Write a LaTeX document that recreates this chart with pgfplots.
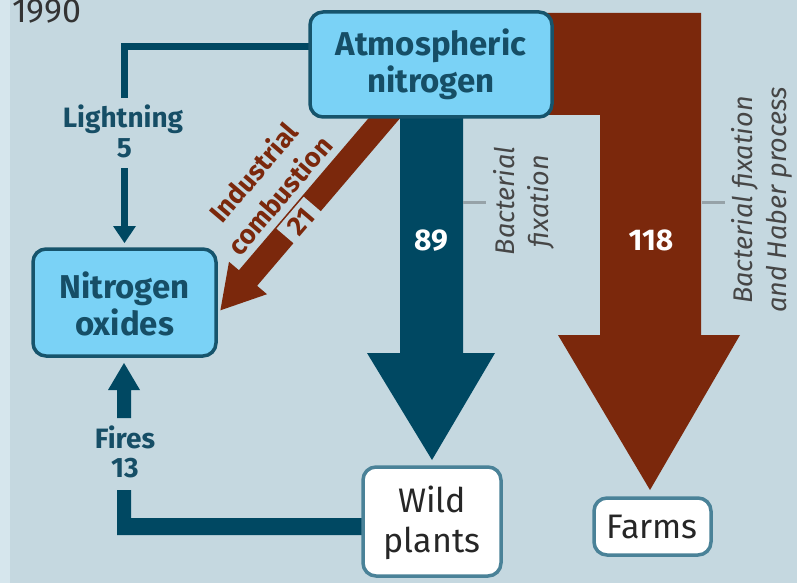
\documentclass[border=0pt]{standalone}
\usepackage{pgfplots}
\pgfplotsset{compat=1.18}
\usepackage{fontspec}
\setmainfont{Fira Sans}
\definecolor{bg}{RGB}{197,216,224}
\definecolor{strip}{RGB}{214,230,237}
\definecolor{boxfill}{RGB}{122,210,246}
\definecolor{boxline}{RGB}{22,84,108}
\definecolor{cTeal}{RGB}{0,72,98}
\definecolor{cBrown}{RGB}{123,40,12}
\definecolor{tealtext}{RGB}{22,78,102}
\definecolor{wline}{RGB}{74,130,152}
\definecolor{gtext}{RGB}{70,70,70}
\definecolor{conn}{RGB}{150,162,168}
\tikzset{
  boxtxt/.style={font=\fontsize{33}{36}\selectfont\bfseries, text=tealtext, anchor=base, inner sep=0pt},
  lbl/.style={font=\fontsize{28}{30}\selectfont\bfseries, text=tealtext, anchor=base, inner sep=0pt},
  num/.style={font=\fontsize{30}{32}\selectfont\bfseries, text=white, anchor=base, inner sep=0pt},
  wtxt/.style={font=\fontsize{34}{36}\selectfont, text=black!85, anchor=base, inner sep=0pt},
  itxt/.style={font=\fontsize{27}{34}\selectfont\itshape, text=gtext, rotate=90, align=center, inner sep=0pt},
  ctxt/.style={font=\fontsize{27}{30}\selectfont\bfseries, text=cBrown, rotate=49.5, inner sep=0pt},
}
\begin{document}
\begin{tikzpicture}
\clip (0,0) rectangle (797pt,583pt);
\begin{axis}[at={(0,0)}, anchor=south west, scale only axis, width=797pt, height=583pt,
  xmin=0, xmax=797, ymin=0, ymax=583, y dir=reverse, hide axis, clip=false]
% background
\addplot[fill=bg, draw=none] coordinates {(0,0) (797,0) (797,583) (0,583)} -- cycle;
\addplot[fill=strip, draw=none] coordinates {(0,0) (10,0) (10,583) (0,583)} -- cycle;
% big brown arrow (118)
\addplot[fill=cBrown, draw=none] coordinates {(540,13) (701,13) (701,335) (740,335) (650,490) (558,335) (600,335) (600,115) (540,115)} -- cycle;
% teal arrow (89)
\addplot[fill=cTeal, draw=none] coordinates {(400,100) (463,100) (463,353) (495,353) (432,460) (367,353) (400,353)} -- cycle;
% industrial combustion arrow (21)
\addplot[fill=cBrown, draw=none] coordinates {(415.6,100) (384.1,100) (238.9,270.2) (229,261.8) (220.4,310.3) (267,294.2) (257.1,285.8)} -- cycle;
% lightning
\addplot[draw=cTeal, line width=6.5pt] coordinates {(310,46.5) (124.5,46.5) (124.5,98)};
\addplot[draw=cTeal, line width=6.5pt] coordinates {(124.5,168) (124.5,229)};
\addplot[fill=cTeal, draw=none] coordinates {(113,226) (136,226) (124.5,243)} -- cycle;
% fires
\addplot[fill=cTeal, draw=none] coordinates {(117,490) (131,490) (131,518) (365,518) (365,535) (117,535)} -- cycle;
\addplot[fill=cTeal, draw=none] coordinates {(117,418) (131,418) (131,390) (140,390) (124,363) (108,390) (117,390)} -- cycle;
% connectors
\addplot[draw=conn, line width=3pt] coordinates {(463,202) (486,202)};
\addplot[draw=conn, line width=3pt] coordinates {(702,202) (725,202)};
% boxes
\addplot[fill=boxfill, draw=boxline, line width=3.5pt, rounded corners=13pt] coordinates {(310,12) (552,12) (552,117) (310,117)} -- cycle;
\addplot[fill=boxfill, draw=boxline, line width=3.5pt, rounded corners=13pt] coordinates {(33,249) (216,249) (216,356) (33,356)} -- cycle;
\addplot[fill=white, draw=wline, line width=3.5pt, rounded corners=13pt] coordinates {(363,467) (501,467) (501,576) (363,576)} -- cycle;
\addplot[fill=white, draw=wline, line width=3.5pt, rounded corners=13pt] coordinates {(594,498) (711,498) (711,555) (594,555)} -- cycle;
% texts
\node[font=\fontsize{34}{36}\selectfont, text=black!80, anchor=base west, inner sep=0pt] at (axis cs:12,23) {1990};
\node[boxtxt] at (axis cs:431,56) {Atmospheric};
\node[boxtxt] at (axis cs:431,93) {nitrogen};
\node[boxtxt] at (axis cs:124.5,298) {Nitrogen};
\node[boxtxt] at (axis cs:124.5,335) {oxides};
\node[lbl] at (axis cs:123,128) {Lightning};
\node[lbl] at (axis cs:124.5,157) {5};
\node[lbl] at (axis cs:125,448) {Fires};
\node[lbl] at (axis cs:125,477) {13};
\node[num] at (axis cs:431,250) {89};
\node[num] at (axis cs:651,250) {118};
\node[wtxt] at (axis cs:432,512) {Wild};
\node[wtxt] at (axis cs:432,552) {plants};
\node[wtxt] at (axis cs:652,538) {Farms};
\node[itxt] at (axis cs:524,201) {Bacterial\\fixation};
\node[itxt] at (axis cs:762,200) {Bacterial fixation\\and Haber process};
\node[ctxt] at (axis cs:253,172) {Industrial};
\node[ctxt] at (axis cs:279,195) {combustion};
\node[ctxt, fill=bg, inner xsep=8pt, inner ysep=5pt] at (axis cs:301,222) {21};
\end{axis}
\end{tikzpicture}
\end{document}
